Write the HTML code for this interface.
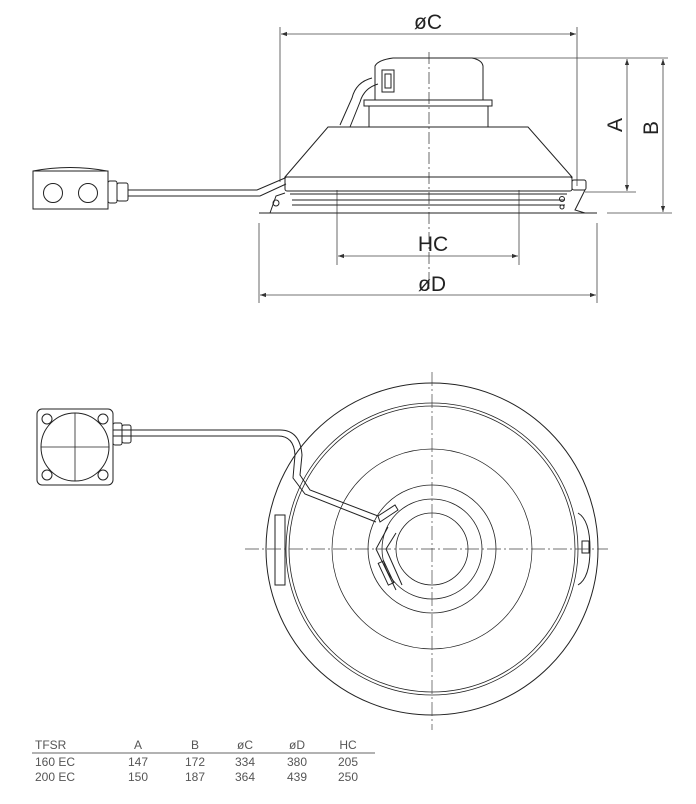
<!DOCTYPE html>
<html><head><meta charset="utf-8"><style>
html,body{margin:0;padding:0;background:#fff;}
svg{display:block;}
text{font-family:"Liberation Sans",sans-serif;}
</style></head><body>
<svg width="696" height="804" viewBox="0 0 696 804" xmlns="http://www.w3.org/2000/svg">
<defs>
<marker id="ar" viewBox="0 0 10 10" refX="10" refY="5" markerWidth="10" markerHeight="6" orient="auto-start-reverse" markerUnits="userSpaceOnUse"><path d="M0,1.5 L10,5 L0,8.5 z" fill="#333"/></marker>
</defs>
<g stroke="#444" fill="none" stroke-width="0.8">
<!-- dimension lines top view -->
<line x1="280" y1="27" x2="280" y2="182"/><line x1="577" y1="27" x2="577" y2="186"/>
<line x1="281" y1="34" x2="576" y2="34" marker-start="url(#ar)" marker-end="url(#ar)"/>
<line x1="472" y1="58" x2="668" y2="58"/><line x1="585" y1="192" x2="636" y2="192"/><line x1="607" y1="213" x2="672" y2="213"/>
<line x1="627" y1="59" x2="627" y2="191" marker-start="url(#ar)" marker-end="url(#ar)"/>
<line x1="663" y1="59" x2="663" y2="212" marker-start="url(#ar)" marker-end="url(#ar)"/>
<line x1="337" y1="190" x2="337" y2="265"/><line x1="519" y1="190" x2="519" y2="265"/>
<line x1="338" y1="256" x2="518" y2="256" marker-start="url(#ar)" marker-end="url(#ar)"/>
<line x1="259" y1="223" x2="259" y2="303"/><line x1="597" y1="223" x2="597" y2="303"/>
<line x1="260" y1="295" x2="596" y2="295" marker-start="url(#ar)" marker-end="url(#ar)"/>
<line x1="429" y1="52" x2="429" y2="292" stroke-dasharray="12,3,2,3"/>
</g>
<g stroke="#222" fill="none" stroke-width="1">
<!-- fan side view -->
<path d="M375,100 L375,66 Q378,60 393,58 L472,58 Q482,60 483,66 L483,100"/>
<rect x="364" y="100" width="128" height="6"/>
<path d="M369,106 L369,127 M488,106 L488,127"/>
<path d="M285,177 L328,127 L528,127 L572,177 Z"/>
<rect x="285" y="177" width="287" height="14" rx="2"/>
<rect x="382" y="70" width="12" height="22"/><rect x="385" y="74" width="6" height="14"/>
<path d="M372,78 Q356,82 352,98 L340,125 M378,84 Q364,88 360,102 L350,127"/>
<line x1="290" y1="194" x2="567" y2="194"/><line x1="292" y1="200" x2="565" y2="200"/><line x1="292" y1="205" x2="565" y2="205"/>
<path d="M270,213 L276,196 L285,193 M585,190 L575,210 L585,213"/>
<rect x="572" y="180" width="14" height="10" rx="2"/>
<circle cx="276" cy="203" r="3"/><circle cx="562" cy="199" r="2.5"/><circle cx="562" cy="207" r="2"/>
<line x1="259" y1="213" x2="597" y2="213"/>
<!-- side-view box + cable -->
<path d="M33,171 Q70,164 107,171"/>
<rect x="33" y="171" width="75" height="38"/>
<circle cx="53" cy="193" r="9.5"/><circle cx="88" cy="193" r="9.5"/>
<rect x="108" y="181" width="9" height="22" rx="2"/><rect x="117" y="183" width="11" height="18" rx="2"/>
<path d="M128,190 L257,190 L285,178 M128,196 L260,196 L286,184"/>
<!-- bottom view -->
<circle cx="432" cy="549" r="166"/>
<circle cx="432" cy="549" r="146" stroke-width="0.8"/><circle cx="432" cy="549" r="143" stroke-width="0.8"/>
<circle cx="432" cy="549" r="100" stroke-width="0.7"/>
<circle cx="432" cy="549" r="64" stroke-width="0.8"/><circle cx="432" cy="549" r="50" stroke-width="0.8"/>
<circle cx="432" cy="549" r="36" stroke-width="0.8"/>
<rect x="275" y="515" width="10" height="70"/>
<path d="M578,513 Q590,520 590,549 Q590,578 578,585"/>
<rect x="582" y="541" width="7" height="12"/>
<path d="M380,522 L398,510 L395,505 L378,516 Z"/>
<path d="M388,527 L376,549 L396,590 M396,533 L386,549 L402,585"/>
<rect x="383" y="561" width="6" height="24" transform="rotate(-25 386 573)"/>
<path d="M113,430 L280,430 Q300,430 302,455 L300,475 L310,490 L378,516 M113,436 L278,436 Q294,436 295,455 L293,478 L305,494 L376,522"/>
<!-- bottom box -->
<rect x="37" y="409" width="76" height="76" rx="5"/>
<circle cx="75" cy="447" r="34"/>
<line x1="41" y1="447" x2="109" y2="447" stroke-width="0.8"/><line x1="75" y1="413" x2="75" y2="481" stroke-width="0.8"/>
<circle cx="47" cy="419" r="5"/><circle cx="103" cy="419" r="5"/><circle cx="47" cy="475" r="5"/><circle cx="103" cy="475" r="5"/>
<rect x="113" y="423" width="9" height="22" rx="2"/><rect x="122" y="425" width="9" height="18" rx="2"/>
</g>
<g stroke="#444" fill="none" stroke-width="0.7" stroke-dasharray="14,3,2,3">
<line x1="245" y1="549" x2="608" y2="549"/><line x1="432" y1="372" x2="432" y2="730"/>
</g>
<g fill="#222" font-size="21">
<text x="428" y="29" text-anchor="middle">øC</text>
<text x="433" y="251" text-anchor="middle">HC</text>
<text x="432" y="291" text-anchor="middle">øD</text>
<text transform="translate(622,125) rotate(-90)" text-anchor="middle">A</text>
<text transform="translate(658,128) rotate(-90)" text-anchor="middle">B</text>
</g>
<line x1="32" y1="753" x2="375" y2="753" stroke="#333" stroke-width="0.8"/>
<g fill="#555" font-size="12">
<text x="35" y="749">TFSR</text><text x="138" y="749" text-anchor="middle">A</text><text x="195" y="749" text-anchor="middle">B</text><text x="245" y="749" text-anchor="middle">øC</text><text x="297" y="749" text-anchor="middle">øD</text><text x="348" y="749" text-anchor="middle">HC</text>
<text x="35" y="766">160 EC</text><text x="138" y="766" text-anchor="middle">147</text><text x="195" y="766" text-anchor="middle">172</text><text x="245" y="766" text-anchor="middle">334</text><text x="297" y="766" text-anchor="middle">380</text><text x="348" y="766" text-anchor="middle">205</text>
<text x="35" y="781">200 EC</text><text x="138" y="781" text-anchor="middle">150</text><text x="195" y="781" text-anchor="middle">187</text><text x="245" y="781" text-anchor="middle">364</text><text x="297" y="781" text-anchor="middle">439</text><text x="348" y="781" text-anchor="middle">250</text>
</g>
</svg>
</body></html>
